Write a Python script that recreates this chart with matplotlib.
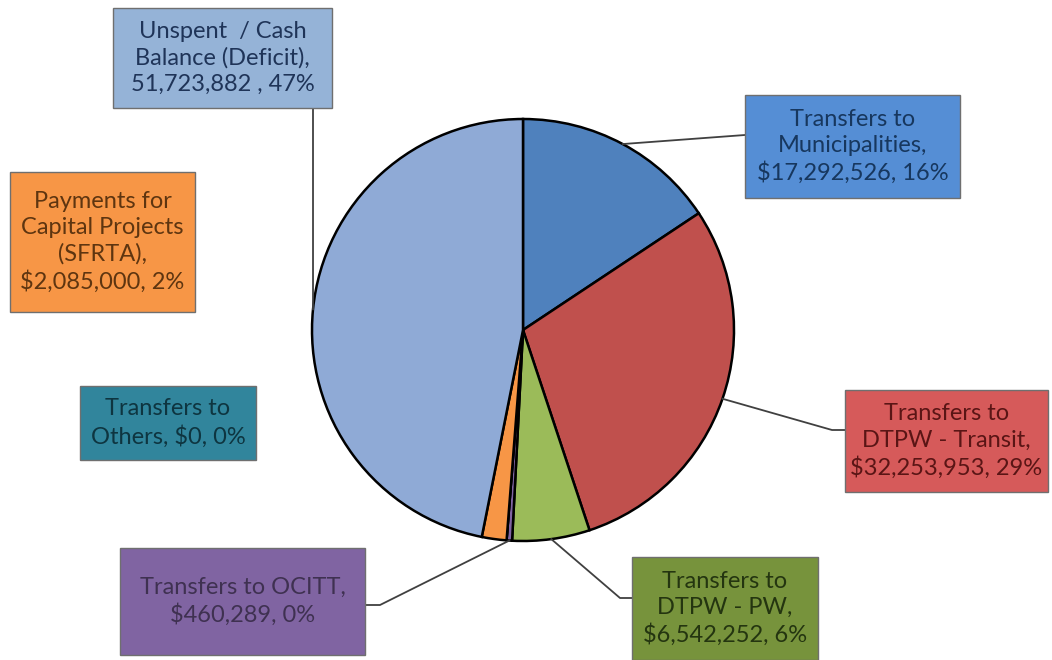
import numpy as np
import matplotlib.pyplot as plt
from matplotlib.patches import Rectangle

# slices, clockwise from 12 o'clock
categories = ["Transfers to Municipalities", "Transfers to DTPW - Transit",
              "Transfers to DTPW - PW", "Transfers to OCITT",
              "Transfers to Others", "Payments for Capital Projects (SFRTA)",
              "Unspent / Cash Balance (Deficit)"]
values = [17292526, 32253953, 6542252, 460289, 0, 2085000, 51723882]
labels = ["Transfers to\nMunicipalities,\n$17,292,526, 16%",
          "Transfers to\nDTPW - Transit,\n$32,253,953, 29%",
          "Transfers to\nDTPW - PW,\n$6,542,252, 6%",
          "Transfers to OCITT,\n$460,289, 0%",
          "Transfers to\nOthers, $0, 0%",
          "Payments for\nCapital Projects\n(SFRTA),\n$2,085,000, 2%",
          "Unspent  / Cash\nBalance (Deficit),\n51,723,882 , 47%"]
slice_colors = ["#4F81BD", "#C0504D", "#9BBB59", "#8064A2", "#4BACC6", "#F79646", "#8FAAD6"]
box_colors = ["#558ED5", "#D65A5A", "#77933C", "#8064A2", "#31859C", "#F79646", "#95B3D7"]
text_colors = ["#17375E", "#5A1515", "#243510", "#3F3151", "#0E3540", "#5E3510", "#1F3458"]

W, H = 1052, 660
CX, CY, R = 523, 330, 211

# label boxes in pixel coords: x0, y0 (top), x1, y1 (bottom)
boxes = [(745, 95, 960, 198), (845, 390, 1048, 492), (632, 557, 818, 660),
         (120, 548, 365, 655), (80, 386, 256, 460), (10, 172, 195, 312),
         (113, 8, 332, 108)]
# leader line elbow/end points (pixel coords), None = no leader
leaders = [[(745, 135)], [(832, 430), (845, 430)], [(620, 598), (632, 598)],
           [(380, 605), (365, 605)], None, None, [(313, 108)]]

fig = plt.figure(figsize=(W / 100, H / 100), dpi=100)
ax = fig.add_axes([0, 0, 1, 1])

ax.pie(values, colors=slice_colors, startangle=90, counterclock=False,
       center=(CX, H - CY), radius=R, frame=True,
       wedgeprops=dict(edgecolor="black", linewidth=1.8))
ax.set_xlim(0, W)
ax.set_ylim(0, H)
ax.axis("off")

total = sum(values)
cum = np.cumsum([0] + values[:-1])
for i, lab in enumerate(labels):
    x0, y0, x1, y1 = boxes[i]
    ax.add_patch(Rectangle((x0, H - y1), x1 - x0, y1 - y0, facecolor=box_colors[i],
                           edgecolor="#6f6f6f", linewidth=1, zorder=3))
    ax.text((x0 + x1) / 2, H - (y0 + y1) / 2, lab, ha="center", va="center",
            fontsize=17, family="Lato", color=text_colors[i], linespacing=1.3, zorder=4)
    if leaders[i] is not None:
        frac = (cum[i] + values[i] / 2) / total
        ang = np.radians(90 - 360 * frac)
        pts = [(CX + R * np.cos(ang), H - CY + R * np.sin(ang))]
        pts += [(px, H - py) for px, py in leaders[i]]
        xs, ys = zip(*pts)
        ax.plot(xs, ys, color="#404040", linewidth=1.3, zorder=2)

fig.savefig("out.png", dpi=100)
